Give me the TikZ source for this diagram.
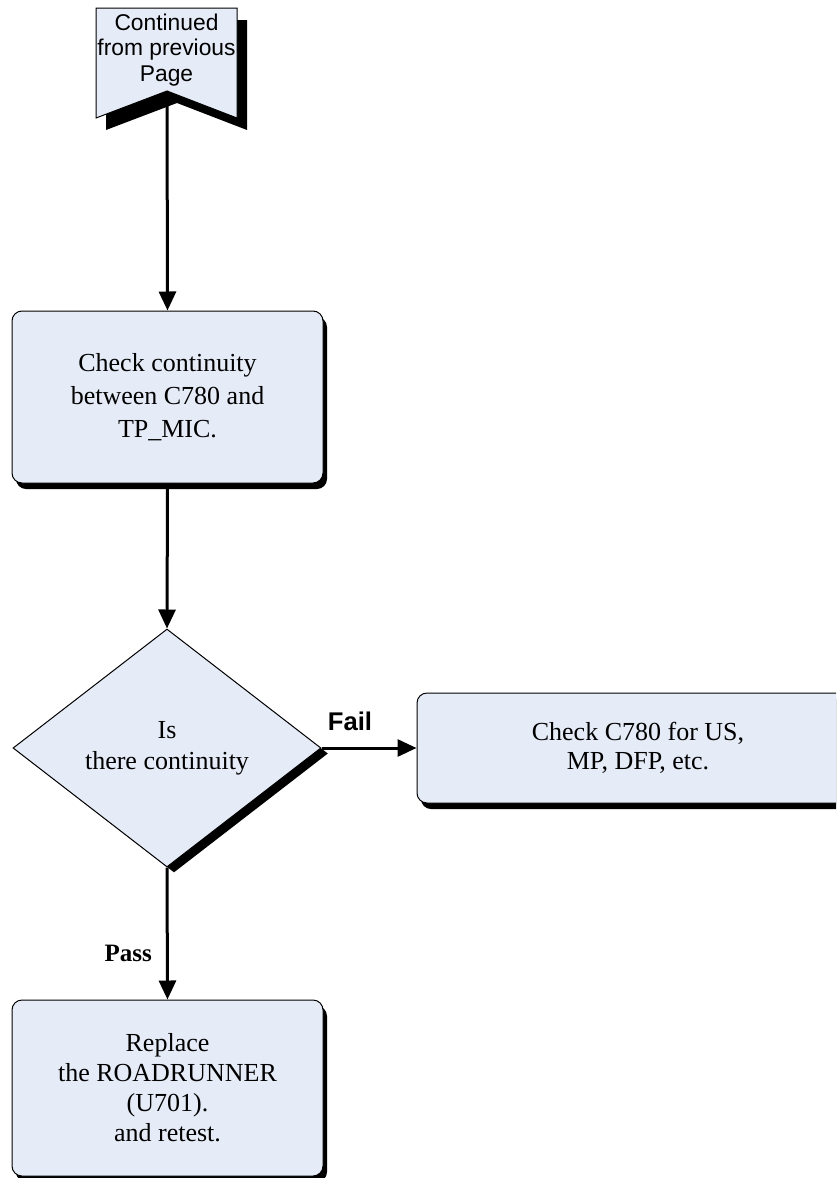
\documentclass[tikz,border=0pt]{standalone}
\usepackage{fontspec}
\setmainfont{Liberation Serif}
\newfontfamily\arialfont{Liberation Sans}
\usetikzlibrary{arrows.meta,shapes.geometric,shadows}
\definecolor{boxfill}{HTML}{E6ECF7}
\tikzset{
  flowline/.style={line width=1.5pt,-{Triangle[width=8.5pt,length=9.5pt]}},
  procbox/.style={draw=black,line width=0.5pt,fill=boxfill,rounded corners=5pt,align=center,inner sep=0pt,
    general shadow={fill=black,shadow xshift=2pt,shadow yshift=-3pt}},
  decision/.style={diamond,aspect=1.3,draw=black,line width=0.5pt,fill=boxfill,align=center,inner sep=0pt,
    general shadow={fill=black,shadow xshift=3.5pt,shadow yshift=-2.75pt}},
  yesno/.style={inner sep=0pt,font=\bfseries\fontsize{12.5}{15}\selectfont}
}

\begin{document}
\begin{tikzpicture}[x=0.5pt,y=-0.5pt]
    \useasboundingbox (0,0) rectangle (836,1178);
    \clip (0,0) rectangle (836,1178);
    \fill[black] (106,20) -- (247,20) -- (247,130) -- (177,103) -- (106,130) -- cycle;
    \filldraw[fill=boxfill,draw=black,line width=0.5pt] (96,8) -- (237,8) -- (237,118) -- (167,91) -- (96,118) -- cycle;
    \node[font=\arialfont\fontsize{11.4}{12.75}\selectfont,align=center] (prev) at (166.5,50) {Continued\\from previous\\Page};
    \coordinate (notch) at (167,91);
    \node[procbox,minimum width=155.5pt,minimum height=86pt,font=\fontsize{13}{16.5}\selectfont] (chk) at (167.5,397)
      {Check continuity\\between C780 and\\TP\_MIC.};
    \node[decision,minimum width=154pt,minimum height=119pt,font=\fontsize{13}{15.5}\selectfont] (cont) at (167,748)
      {Is\\there continuity};
    \node[procbox,minimum width=221pt,minimum height=55pt,font=\fontsize{13}{14.5}\selectfont] (c780) at (638,748)
      {Check C780 for US,\\MP, DFP, etc.};
    \node[procbox,minimum width=155.5pt,minimum height=88pt,font=\fontsize{13}{15}\selectfont] (repl) at (167.5,1088)
      {Replace\\the ROADRUNNER\\(U701).\\and retest.};
    \draw[flowline] (notch) -- (chk.north);
    \draw[flowline] (chk.south) -- (cont.north);
    \draw[flowline] (cont.east) -- node[yesno,pos=0.3,above=8pt,font=\arialfont\bfseries\fontsize{12.8}{15}\selectfont] {Fail} (c780.west);
    \draw[flowline] (cont.south) -- node[yesno,pos=0.65,left=7pt] {Pass} (repl.north);
  \end{tikzpicture}
\end{document}
